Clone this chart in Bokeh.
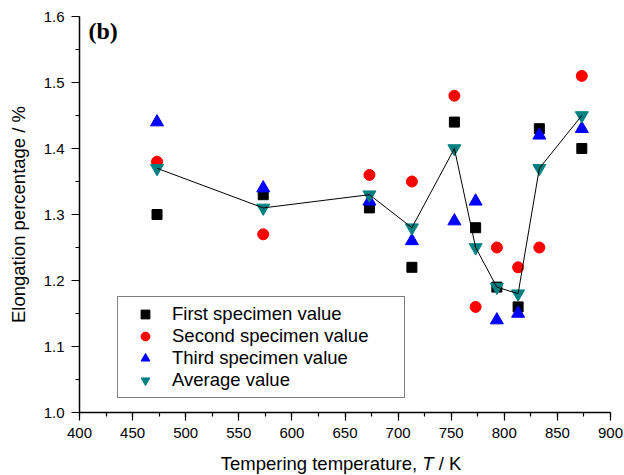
from bokeh.plotting import figure
from bokeh.models import (Range1d, Label, Legend, LegendItem, SingleIntervalTicker,
                          ColumnDataSource, PrintfTickFormatter, Div)
from bokeh.layouts import column
from bokeh.embed import file_html
from bokeh.resources import INLINE

temps = [473, 573, 673, 713, 753, 773, 793, 813, 833, 873]
first = [1.30, 1.33, 1.31, 1.22, 1.44, 1.28, 1.19, 1.16, 1.43, 1.40]
second = [1.38, 1.27, 1.36, 1.35, 1.48, 1.16, 1.25, 1.22, 1.25, 1.51]
third = [1.44, 1.34, 1.32, 1.26, 1.29, 1.32, 1.14, 1.15, 1.42, 1.43]
average = [1.37, 1.31, 1.33, 1.28, 1.40, 1.25, 1.19, 1.18, 1.37, 1.45]

FONT = "Liberation Sans"

p = figure(width=624, height=445, output_backend="svg", toolbar_location=None,
           x_range=Range1d(400, 900), y_range=Range1d(1.0, 1.6),
           min_border_left=79, min_border_right=14, min_border_top=16, min_border_bottom=33)
p.outline_line_color = None
p.xgrid.visible = False
p.ygrid.visible = False
p.background_fill_color = "white"
p.border_fill_color = "white"

for ax in (p.xaxis[0], p.yaxis[0]):
    ax.axis_line_color = "black"
    ax.axis_line_width = 1.5
    ax.major_tick_line_color = "black"
    ax.minor_tick_line_color = "black"
    ax.major_tick_line_width = 1.2
    ax.minor_tick_line_width = 1.2
    ax.major_tick_in = 0
    ax.major_tick_out = 8
    ax.minor_tick_in = 0
    ax.minor_tick_out = 4
    ax.major_label_text_font = FONT
    ax.major_label_text_font_size = "15px"
    ax.major_label_text_color = "black"
    ax.major_label_standoff = 7
    ax.axis_label_text_font = FONT
    ax.axis_label_text_font_size = "18.5px"
    ax.axis_label_text_font_style = "normal"
    ax.axis_label_text_color = "black"

p.xaxis[0].ticker = SingleIntervalTicker(interval=50, num_minor_ticks=2)
p.yaxis[0].ticker = SingleIntervalTicker(interval=0.1, num_minor_ticks=2)
p.yaxis[0].formatter = PrintfTickFormatter(format="%.1f")
p.yaxis[0].axis_label = "Elongation percentage / %"
p.yaxis[0].axis_label_standoff = 12

src = ColumnDataSource(dict(t=temps, f=first, s=second, th=third, a=average))

r1 = p.scatter("t", "f", source=src, marker="square", size=10, color="black")
r2 = p.scatter("t", "s", source=src, marker="circle", size=11, color="red")
r3 = p.scatter("t", "th", source=src, marker="triangle", size=13, color="blue")
r4 = p.scatter("t", "a", source=src, marker="inverted_triangle", size=13, color="#008080")
p.line("t", "a", source=src, line_color="black", line_width=1)

legend = Legend(items=[
    LegendItem(label="First specimen value", renderers=[r1]),
    LegendItem(label="Second specimen value", renderers=[r2]),
    LegendItem(label="Third specimen value", renderers=[r3]),
    LegendItem(label="Average value", renderers=[r4]),
], location=(38, 14))
legend.border_line_color = "black"
legend.border_line_width = 1
legend.background_fill_alpha = 1
legend.padding = 6
legend.margin = 0
legend.spacing = 0
legend.glyph_width = 42
legend.glyph_height = 22
legend.label_height = 22
legend.label_width = 226
legend.label_standoff = 6
legend.label_text_font = FONT
legend.label_text_font_size = "18.5px"
legend.label_text_color = "black"
p.add_layout(legend, "center")

p.add_layout(Label(x=408.5, y=1.598, text="(b)", text_font="Liberation Serif", text_font_style="bold",
                   text_font_size="24px", text_baseline="top", text_color="black"))

xlabel = Div(text="Tempering temperature, <i>T</i> / K", width=524, height=30,
             margin=(0, 0, 0, 79),
             styles={"font-family": FONT, "font-size": "18.5px", "color": "black",
                     "text-align": "center", "padding-top": "6px", "width": "524px",
                     "background": "white"})

layout = column(p, xlabel, spacing=0)
open("out.html", "w").write(file_html(layout, INLINE))
